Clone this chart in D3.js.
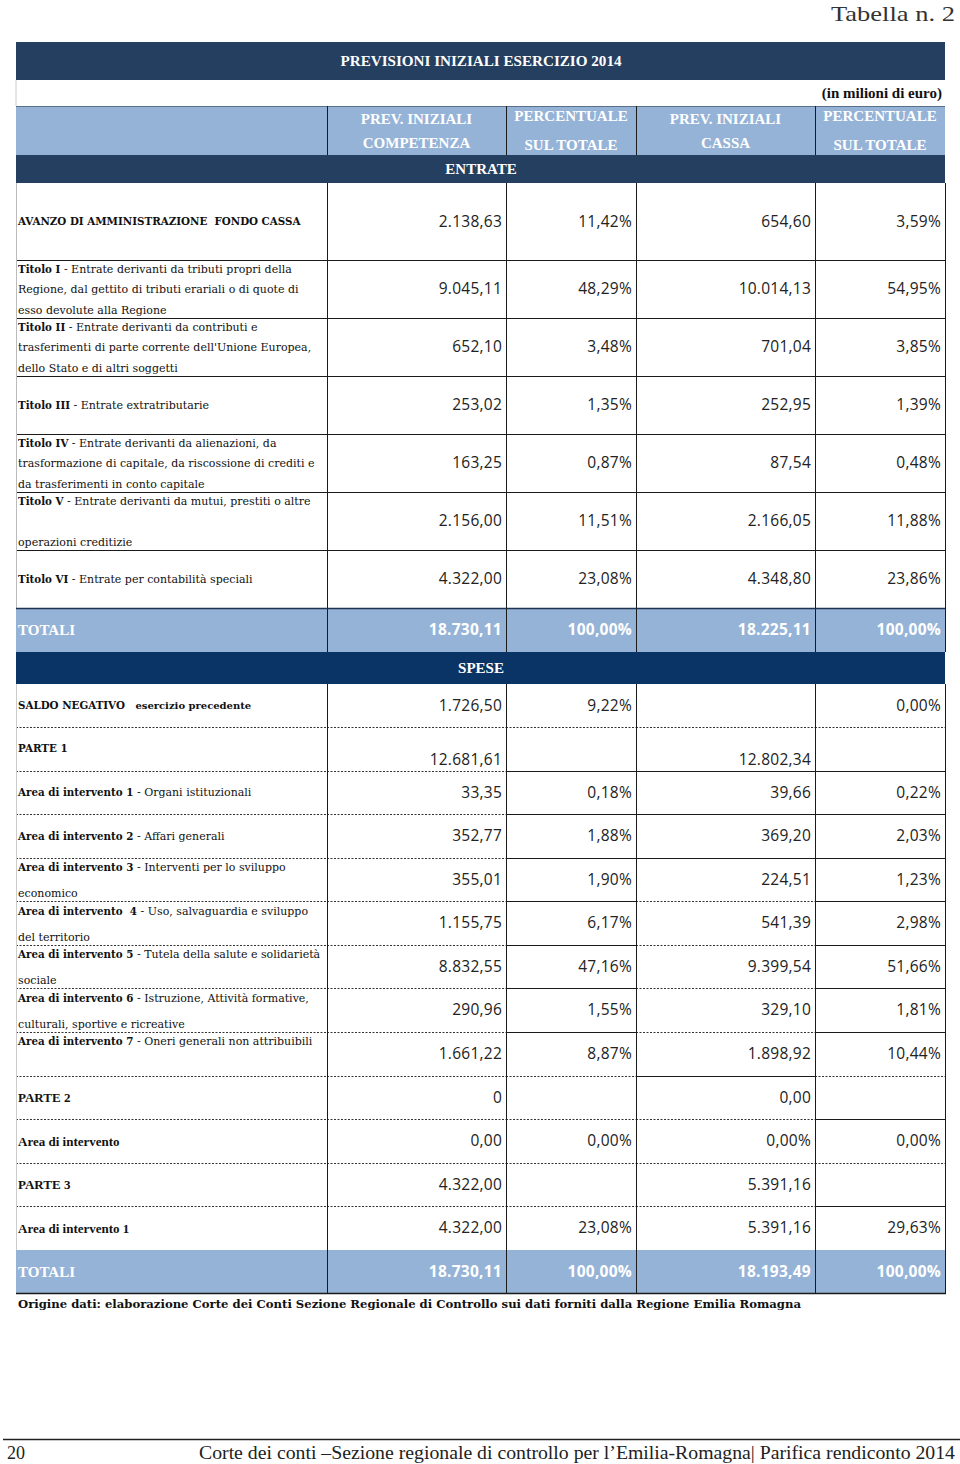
<!DOCTYPE html>
<html><head><meta charset="utf-8">
<script src="https://cdn.jsdelivr.net/npm/d3@7"></script>
<style>
html,body{margin:0;padding:0;background:#fff;}
svg{display:block;}
</style></head>
<body>
<script>
// ---------------- DATA ----------------
const tableTitle = "PREVISIONI INIZIALI ESERCIZIO 2014";
const unitNote = "(in milioni di euro)";
const colHeaders = [["PREV. INIZIALI","COMPETENZA"],["PERCENTUALE","SUL TOTALE"],["PREV. INIZIALI","CASSA"],["PERCENTUALE","SUL TOTALE"]];
const sectionNames = ["ENTRATE","SPESE"];

const entrateLabels = [
  ["**AVANZO DI AMMINISTRAZIONE  FONDO CASSA**"],
  ["**Titolo I** - Entrate derivanti da tributi propri della","Regione, dal gettito di tributi erariali o di quote di","esso devolute alla Regione"],
  ["**Titolo II** - Entrate derivanti da contributi e","trasferimenti di parte corrente dell'Unione Europea,","dello Stato e di altri soggetti"],
  ["**Titolo III** - Entrate extratributarie"],
  ["**Titolo IV** - Entrate derivanti da alienazioni, da","trasformazione di capitale, da riscossione di crediti e","da trasferimenti in conto capitale"],
  ["**Titolo V** - Entrate derivanti da mutui, prestiti o altre","operazioni creditizie"],
  ["**Titolo VI** - Entrate per contabilità speciali"]
];
const entrateComp     = ["2.138,63","9.045,11","652,10","253,02","163,25","2.156,00","4.322,00"];
const entrateCompPct  = ["11,42%","48,29%","3,48%","1,35%","0,87%","11,51%","23,08%"];
const entrateCassa    = ["654,60","10.014,13","701,04","252,95","87,54","2.166,05","4.348,80"];
const entrateCassaPct = ["3,59%","54,95%","3,85%","1,39%","0,48%","11,88%","23,86%"];
const entrateTotals   = ["18.730,11","100,00%","18.225,11","100,00%"];

const speseLabels = [
  ["**SALDO NEGATIVO**   ^^esercizio precedente^^"],
  ["**PARTE 1**"],
  ["**Area di intervento 1** - Organi istituzionali"],
  ["**Area di intervento 2** - Affari generali"],
  ["**Area di intervento 3** - Interventi per lo sviluppo","economico"],
  ["**Area di intervento  4** - Uso, salvaguardia e sviluppo","del territorio"],
  ["**Area di intervento 5** - Tutela della salute e solidarietà","sociale"],
  ["**Area di intervento 6** - Istruzione, Attività formative,","culturali, sportive e ricreative"],
  ["**Area di intervento 7** - Oneri generali non attribuibili"],
  ["**PARTE 2**"],
  ["**Area di intervento**"],
  ["**PARTE 3**"],
  ["**Area di intervento 1**"]
];
const speseComp     = ["1.726,50","12.681,61","33,35","352,77","355,01","1.155,75","8.832,55","290,96","1.661,22","0","0,00","4.322,00","4.322,00"];
const speseCompPct  = ["9,22%","","0,18%","1,88%","1,90%","6,17%","47,16%","1,55%","8,87%","","0,00%","","23,08%"];
const speseCassa    = ["","12.802,34","39,66","369,20","224,51","541,39","9.399,54","329,10","1.898,92","0,00","0,00%","5.391,16","5.391,16"];
const speseCassaPct = ["0,00%","","0,22%","2,03%","1,23%","2,98%","51,66%","1,81%","10,44%","","0,00%","","29,63%"];
const speseTotals   = ["18.730,11","100,00%","18.193,49","100,00%"];
const totalLabel = "TOTALI";

const sourceNote = "Origine dati: elaborazione Corte dei Conti Sezione Regionale di Controllo sui dati forniti dalla Regione Emilia Romagna";
const pageTitle = "Tabella n. 2";
const pageNumber = "20";
const footerText = "Corte dei conti –Sezione regionale di controllo per l’Emilia-Romagna| Parifica rendiconto 2014";

// ---------------- LAYOUT ----------------
const W = 960, H = 1464;
const colEdges = [16, 327, 506, 636, 815, 945];
const entrateTops = [183,260,318,376,434,492,550,608];
const entrateLineOff = [[38],[9,29,50],[9,29,50],[29],[9,29,50],[9,50],[29]];
const speseTops = [684,727,771,814,858,901,945,988,1032,1076,1119,1163,1206,1250];
const speseLineOff = [[21],[21],[21],[22],[9,35],[10,36],[9,35],[10,36],[9],[21],[22],[21],[22]];
const speseValOff = [22,33,22,22,22,22,22,22,22,22,22,22,22];
const condRows = new Set([9,10,11,12]);
// horizontal boundary styles in SPESE per column segment (label, c1, c2, c3, c4): 1=solid 0=dashed
const speseBoundaryStyles = {
  727:[0,0,0,0,0], 771:[0,0,1,1,1], 814:[0,0,1,1,1], 858:[0,0,1,1,1], 901:[0,0,1,0,1],
  945:[0,0,1,0,1], 988:[0,0,1,0,1], 1032:[0,0,1,0,1], 1076:[0,0,0,1,0], 1119:[0,0,0,0,1],
  1163:[0,0,0,0,0], 1206:[0,0,0,0,1], 1250:[0,0,0,0,0]
};

const C = {navy:"#243F60", spese:"#0B3466", blue:"#95B3D7", line:"#1a1a1a"};
const SERIF_LBL = "'DejaVu Serif', serif";
const SERIF_HDR = "'Liberation Serif', 'Times New Roman', serif";
const NUMF = "'Open Sans', 'Liberation Sans', sans-serif";
const LBL_SIZE = 11;
const LBL_BOLD_SIZE = 10.3;
const HDR_SIZE = 15;
const NUM_SIZE = 15.5;

const svg = d3.select("body").append("svg").attr("width", W).attr("height", H);

const x = d3.scaleOrdinal().domain([0,1,2,3,4,5]).range(colEdges);

// page title
svg.append("text").attr("x", 955).attr("y", 21).attr("text-anchor","end")
  .attr("font-family", SERIF_HDR).attr("font-size", 22).attr("fill","#333")
  .attr("textLength", 124).attr("lengthAdjust","spacingAndGlyphs").text(pageTitle);

// title bar
svg.append("rect").attr("x", x(0)).attr("y", 42).attr("width", x(5)-x(0)).attr("height", 38).attr("fill", C.navy);
svg.append("text").attr("x", 481).attr("y", 61).attr("dy","0.35em").attr("text-anchor","middle")
  .attr("font-family", SERIF_HDR).attr("font-weight","bold").attr("font-size", HDR_SIZE).attr("fill","#fff")
  .attr("textLength", 281).attr("lengthAdjust","spacingAndGlyphs").text(tableTitle);

svg.append("line").attr("x1", x(0)).attr("x2", x(0)).attr("y1", 80).attr("y2", 106).attr("stroke","#ccc");
svg.append("text").attr("x", 942).attr("y", 93).attr("dy","0.35em").attr("text-anchor","end")
  .attr("font-family", SERIF_HDR).attr("font-weight","bold").attr("font-size", HDR_SIZE).attr("fill","#111")
  .text(unitNote);

// header light blue row
svg.append("rect").attr("x", x(0)).attr("y", 106).attr("width", x(5)-x(0)).attr("height", 49).attr("fill", C.blue);
svg.append("line").attr("x1", x(0)).attr("x2", x(5)).attr("y1", 106.5).attr("y2", 106.5).attr("stroke","#5a6f88");
[1,2,3,4].forEach(i => {
  svg.append("line").attr("x1", x(i)+0.5).attr("x2", x(i)+0.5).attr("y1", 106).attr("y2", 155).attr("stroke", C.line);
});
const hdrY = [[119,143],[116,145],[119,143],[116,145]];
colHeaders.forEach((h, i) => {
  const cx = (x(i+1) + x(i+2)) / 2;
  h.forEach((t, j) => {
    svg.append("text").attr("x", cx).attr("y", hdrY[i][j]).attr("dy","0.35em").attr("text-anchor","middle")
      .attr("font-family", SERIF_HDR).attr("font-weight","bold").attr("font-size", HDR_SIZE).attr("fill","#fff").text(t);
  });
});

// ENTRATE bar
svg.append("rect").attr("x", x(0)).attr("y", 155).attr("width", x(5)-x(0)).attr("height", 28).attr("fill", C.navy);
svg.append("text").attr("x", 481).attr("y", 169).attr("dy","0.35em").attr("text-anchor","middle")
  .attr("font-family", SERIF_HDR).attr("font-weight","bold").attr("font-size", HDR_SIZE).attr("fill","#fff").text(sectionNames[0]);

function drawLabel(g, lines, tops, offs, cond) {
  lines.forEach((ln, k) => {
    const t = g.append("text").attr("x", 18).attr("y", tops + offs[k]).attr("dy","0.35em")
      .attr("font-family", cond ? SERIF_HDR : SERIF_LBL).attr("font-size", cond ? 13 : LBL_SIZE).attr("fill","#111");
    const parts = ln.split(/(\*\*[^*]+\*\*|\^\^[^^]+\^\^)/).filter(s => s.length);
    parts.forEach(p => {
      if (p.startsWith("**")) {
        const ts = t.append("tspan").attr("font-weight","bold").text(p.slice(2,-2));
        if (!cond) ts.attr("font-size", LBL_BOLD_SIZE);
      }
      else if (p.startsWith("^^")) t.append("tspan").attr("font-weight","bold").attr("font-size", 10).text(p.slice(2,-2));
      else t.append("tspan").text(p);
    });
    t.attr("xml:space","preserve").style("white-space","pre");
  });
}
function drawVal(g, v, col, y, color, bold) {
  if (!v) return;
  g.append("text").attr("x", x(col+1) - 4).attr("y", y).attr("dy","0.35em").attr("text-anchor","end")
    .attr("font-family", NUMF).attr("font-size", NUM_SIZE).attr("letter-spacing", 0.25)
    .attr("font-weight", bold ? "bold" : "normal")
    .attr("fill", color).text(v);
}

// ENTRATE rows
const gE = svg.append("g");
const eCols = [entrateComp, entrateCompPct, entrateCassa, entrateCassaPct];
entrateLabels.forEach((lab, i) => {
  const top = entrateTops[i], bot = entrateTops[i+1];
  drawLabel(gE, lab, top, entrateLineOff[i], false);
  const vy = (top + bot) / 2;
  eCols.forEach((arr, c) => drawVal(gE, arr[i], c+1, vy, "#222", false));
  if (i > 0) gE.append("line").attr("x1", x(0)).attr("x2", x(5)).attr("y1", top+0.5).attr("y2", top+0.5).attr("stroke", C.line);
});
[1,2,3,4,5].forEach(i => {
  gE.append("line").attr("x1", x(i)+0.5).attr("x2", x(i)+0.5).attr("y1", 183).attr("y2", 608).attr("stroke", C.line);
});
gE.append("line").attr("x1", x(0)+0.5).attr("x2", x(0)+0.5).attr("y1", 183).attr("y2", 608).attr("stroke", "#bbb");

// totals
function drawTotals(top, h, vals) {
  svg.append("rect").attr("x", x(0)).attr("y", top).attr("width", x(5)-x(0)).attr("height", h).attr("fill", C.blue);
  svg.append("text").attr("x", 18).attr("y", top + h/2).attr("dy","0.35em")
    .attr("font-family", SERIF_HDR).attr("font-weight","bold").attr("font-size", HDR_SIZE).attr("fill","#fff").text(totalLabel);
  vals.forEach((v, c) => drawVal(svg, v, c+1, top + h/2, "#fff", true));
  [1,2,3,4].forEach(i => svg.append("line").attr("x1", x(i)+0.5).attr("x2", x(i)+0.5).attr("y1", top).attr("y2", top+h).attr("stroke", C.line));
  svg.append("line").attr("x1", x(5)+0.5).attr("x2", x(5)+0.5).attr("y1", top).attr("y2", top+h).attr("stroke", C.line);
}
drawTotals(608, 44, entrateTotals);
svg.append("line").attr("x1", x(0)).attr("x2", x(5)).attr("y1", 608.5).attr("y2", 608.5).attr("stroke", "#1f3350").attr("stroke-width", 1.5);

// SPESE bar
svg.append("rect").attr("x", x(0)).attr("y", 652).attr("width", x(5)-x(0)).attr("height", 32).attr("fill", C.spese);
svg.append("text").attr("x", 481).attr("y", 668).attr("dy","0.35em").attr("text-anchor","middle")
  .attr("font-family", SERIF_HDR).attr("font-weight","bold").attr("font-size", HDR_SIZE).attr("fill","#fff").text(sectionNames[1]);

// SPESE rows
const gS = svg.append("g");
const sCols = [speseComp, speseCompPct, speseCassa, speseCassaPct];
speseLabels.forEach((lab, i) => {
  const top = speseTops[i];
  drawLabel(gS, lab, top, speseLineOff[i], condRows.has(i));
  sCols.forEach((arr, c) => drawVal(gS, arr[i], c+1, top + speseValOff[i], "#222", false));
});
drawTotals(1250, 43, speseTotals);
speseTops.slice(1).forEach(yb => {
  const st = speseBoundaryStyles[yb];
  st.forEach((s, c) => {
    const ln = gS.append("line").attr("x1", x(c)).attr("x2", x(c+1)).attr("y1", yb+0.5).attr("y2", yb+0.5)
      .attr("stroke", s ? C.line : "#333");
    if (!s) ln.attr("stroke-dasharray", "2,1.5");
  });
});
[1,2,3,4,5].forEach(i => {
  gS.append("line").attr("x1", x(i)+0.5).attr("x2", x(i)+0.5).attr("y1", 684).attr("y2", 1250).attr("stroke", C.line);
});
svg.append("line").attr("x1", x(0)+0.5).attr("x2", x(0)+0.5).attr("y1", 684).attr("y2", 1250).attr("stroke", "#ccc");
svg.append("line").attr("x1", x(0)).attr("x2", x(5)+1).attr("y1", 1293.5).attr("y2", 1293.5).attr("stroke", C.line).attr("stroke-width", 1.5);

// source note
svg.append("text").attr("x", 18).attr("y", 1304).attr("dy","0.35em")
  .attr("font-family", SERIF_LBL).attr("font-weight","bold").attr("font-size", 11).attr("fill","#111")
  .attr("textLength", 783).attr("lengthAdjust","spacingAndGlyphs").text(sourceNote);

// footer
svg.append("line").attr("x1", 3).attr("x2", 960).attr("y1", 1439.5).attr("y2", 1439.5).attr("stroke","#222").attr("stroke-width", 1.3);
svg.append("text").attr("x", 7).attr("y", 1459)
  .attr("font-family", SERIF_HDR).attr("font-size", 19).attr("fill","#222")
  .attr("textLength", 18).attr("lengthAdjust","spacingAndGlyphs").text(pageNumber);
svg.append("text").attr("x", 199).attr("y", 1459)
  .attr("font-family", SERIF_HDR).attr("font-size", 19).attr("fill","#222")
  .attr("textLength", 756).attr("lengthAdjust","spacingAndGlyphs").text(footerText);
</script>
</body></html>
